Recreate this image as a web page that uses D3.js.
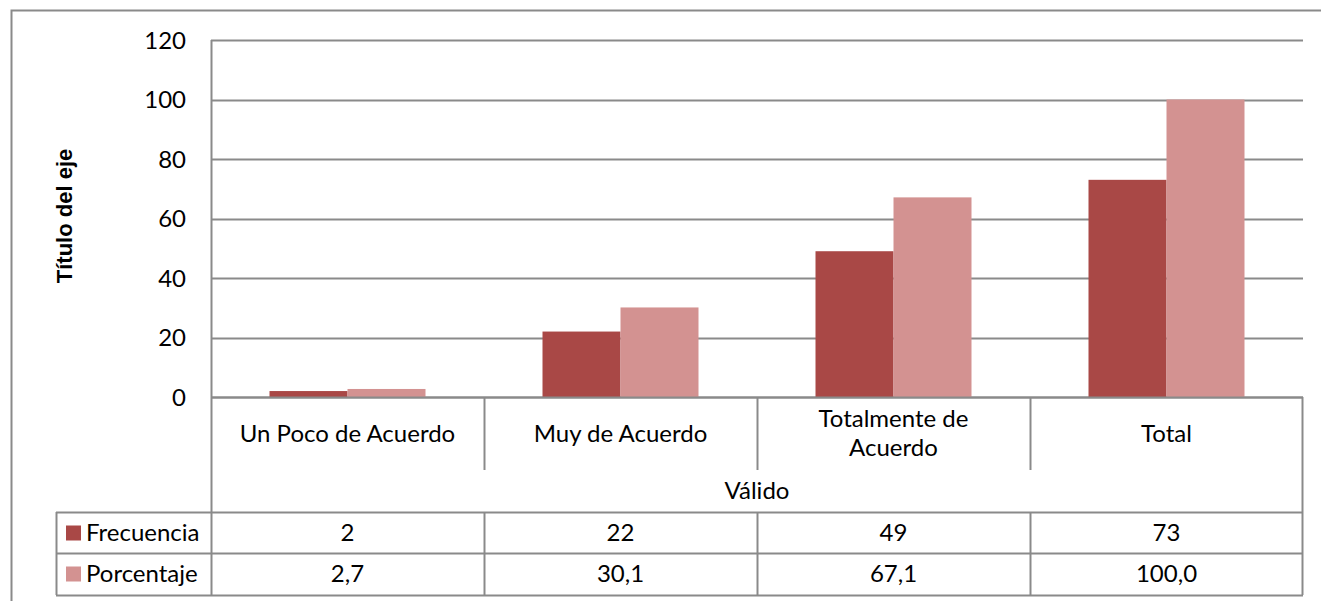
<!DOCTYPE html>
<html lang="es">
	<head>
		<meta charset="utf-8">
		<title>Frecuencia y porcentaje</title>
		<script type="text/javascript" src="https://cdn.jsdelivr.net/npm/d3@7"></script>
		<style>
			body { margin: 0; background: #fff; }
			text { font-family: Lato, "Open Sans", sans-serif; fill: #000; }
		</style>
	</head>
	<body>
	<script type="text/javascript">
			// data
			var categories = ["Un Poco de Acuerdo", "Muy de Acuerdo", "Totalmente de Acuerdo", "Total"];
			var seriesNames = ["Frecuencia", "Porcentaje"];
			var frecuencia = [2, 22, 49, 73];
			var porcentaje = [2.7, 30.1, 67.1, 100.0];
			var yTicks = [0, 20, 40, 60, 80, 100, 120];
			var groupLabel = "Válido";
			var axisTitle = "Título del eje";
			var colors = ["#a94846", "#d39291"];

			//setup
			var width = 1321, height = 601;
			var plotL = 211, plotR = 1303, plotT = 40, base = 397;
			var grid = "#8a8a8a";
			var fs = 24;

			var svg = d3.select("body").append("svg")
						.attr("width", width)
						.attr("height", height);

			// outer chart border (only top & left visible in frame)
			svg.append("path")
				.attr("d", "M11.5,620 V10.5 H1340")
				.attr("fill", "none")
				.attr("stroke", grid)
				.attr("stroke-width", 2);

			var x = d3.scaleBand().domain(categories).range([plotL, plotR]);
			var x1 = d3.scaleBand().domain(seriesNames).range([0, x.bandwidth()])
						.paddingInner(0).paddingOuter(0.75);
			var y = d3.scaleLinear().domain([0, 120]).range([base, plotT]);

			// gridlines
			svg.append("g").selectAll("line").data(yTicks).enter().append("line")
				.attr("x1", plotL).attr("x2", plotR)
				.attr("y1", function(d) { return Math.round(y(d)) + 0.5; })
				.attr("y2", function(d) { return Math.round(y(d)) + 0.5; })
				.attr("stroke", grid).attr("stroke-width", 2);

			// y tick labels
			svg.append("g").selectAll("text").data(yTicks).enter().append("text")
				.attr("x", 186)
				.attr("y", function(d) { return y(d); })
				.attr("dy", "0.36em")
				.attr("text-anchor", "end")
				.attr("font-size", fs)
				.text(function(d) { return d; });

			// axis title
			svg.append("text")
				.attr("transform", "translate(72,216) rotate(-90)")
				.attr("text-anchor", "middle")
				.style("font-family", "'Liberation Sans', Arial, sans-serif")
				.style("font-weight", "bold")
				.style("font-size", "22px")
				.text(axisTitle);

			// bars
			var rows = categories.map(function(c, i) {
				return { cat: c, vals: [frecuencia[i], porcentaje[i]] };
			});
			var groups = svg.append("g").selectAll("g").data(rows).enter().append("g")
				.attr("transform", function(d) { return "translate(" + x(d.cat) + ",0)"; });
			groups.selectAll("rect")
				.data(function(d) { return d.vals.map(function(v, j) { return { s: seriesNames[j], v: v, j: j }; }); })
				.enter().append("rect")
				.attr("x", function(d) { return x1(d.s); })
				.attr("width", x1.bandwidth())
				.attr("y", function(d) { return y(d.v); })
				.attr("height", function(d) { return base - y(d.v); })
				.attr("fill", function(d) { return colors[d.j]; });

			// baseline / table frame
			var tbl = svg.append("g").attr("stroke", grid).attr("stroke-width", 2).attr("fill", "none");
			var rowTop = 512, rowMid = 553, rowBot = 595, legLeft = 56;
			tbl.append("line").attr("x1", plotL).attr("x2", plotR).attr("y1", base + 0.5).attr("y2", base + 0.5);
			tbl.append("line").attr("x1", plotL + 0.5).attr("x2", plotL + 0.5).attr("y1", plotT).attr("y2", rowBot);
			tbl.append("line").attr("x1", plotR - 0.5).attr("x2", plotR - 0.5).attr("y1", base).attr("y2", rowBot);
			[rowTop, rowMid, rowBot].forEach(function(r) {
				tbl.append("line").attr("x1", legLeft).attr("x2", plotR).attr("y1", r + 0.5).attr("y2", r + 0.5);
			});
			tbl.append("line").attr("x1", legLeft + 0.5).attr("x2", legLeft + 0.5).attr("y1", rowTop).attr("y2", rowBot);
			categories.slice(1).forEach(function(c) {
				var xx = Math.round(x(c)) + 0.5;
				tbl.append("line").attr("x1", xx).attr("x2", xx).attr("y1", base).attr("y2", 470);
				tbl.append("line").attr("x1", xx).attr("x2", xx).attr("y1", rowTop).attr("y2", rowBot);
			});

			// category labels
			var catLines = {
				"Totalmente de Acuerdo": ["Totalmente de", "Acuerdo"]
			};
			categories.forEach(function(c) {
				var cx = x(c) + x.bandwidth() / 2;
				var lines = catLines[c] || [c];
				var t = svg.append("text").attr("text-anchor", "middle").attr("font-size", fs);
				lines.forEach(function(l, k) {
					t.append("tspan").attr("x", cx)
						.attr("y", lines.length === 1 ? 442 : 427 + k * 29)
						.text(l);
				});
			});

			// group label
			svg.append("text")
				.attr("x", (plotL + plotR) / 2).attr("y", 499)
				.attr("text-anchor", "middle").attr("font-size", fs)
				.text(groupLabel);

			// data table rows
			var tableRows = [frecuencia.map(function(v) { return String(v); }),
							 porcentaje.map(function(v) { return v.toFixed(1).replace(".", ","); })];
			var rowY = [rowTop, rowMid];
			tableRows.forEach(function(vals, r) {
				var ry = rowY[r] + 20.5;
				svg.append("rect").attr("x", 66).attr("y", ry - 7).attr("width", 15).attr("height", 15)
					.attr("fill", colors[r]);
				svg.append("text").attr("x", 86).attr("y", ry).attr("dy", "0.36em")
					.attr("font-size", fs).text(seriesNames[r]);
				vals.forEach(function(v, i) {
					svg.append("text")
						.attr("x", x(categories[i]) + x.bandwidth() / 2)
						.attr("y", ry).attr("dy", "0.36em")
						.attr("text-anchor", "middle").attr("font-size", fs)
						.text(v);
				});
			});
	</script>
	</body>
</html>
